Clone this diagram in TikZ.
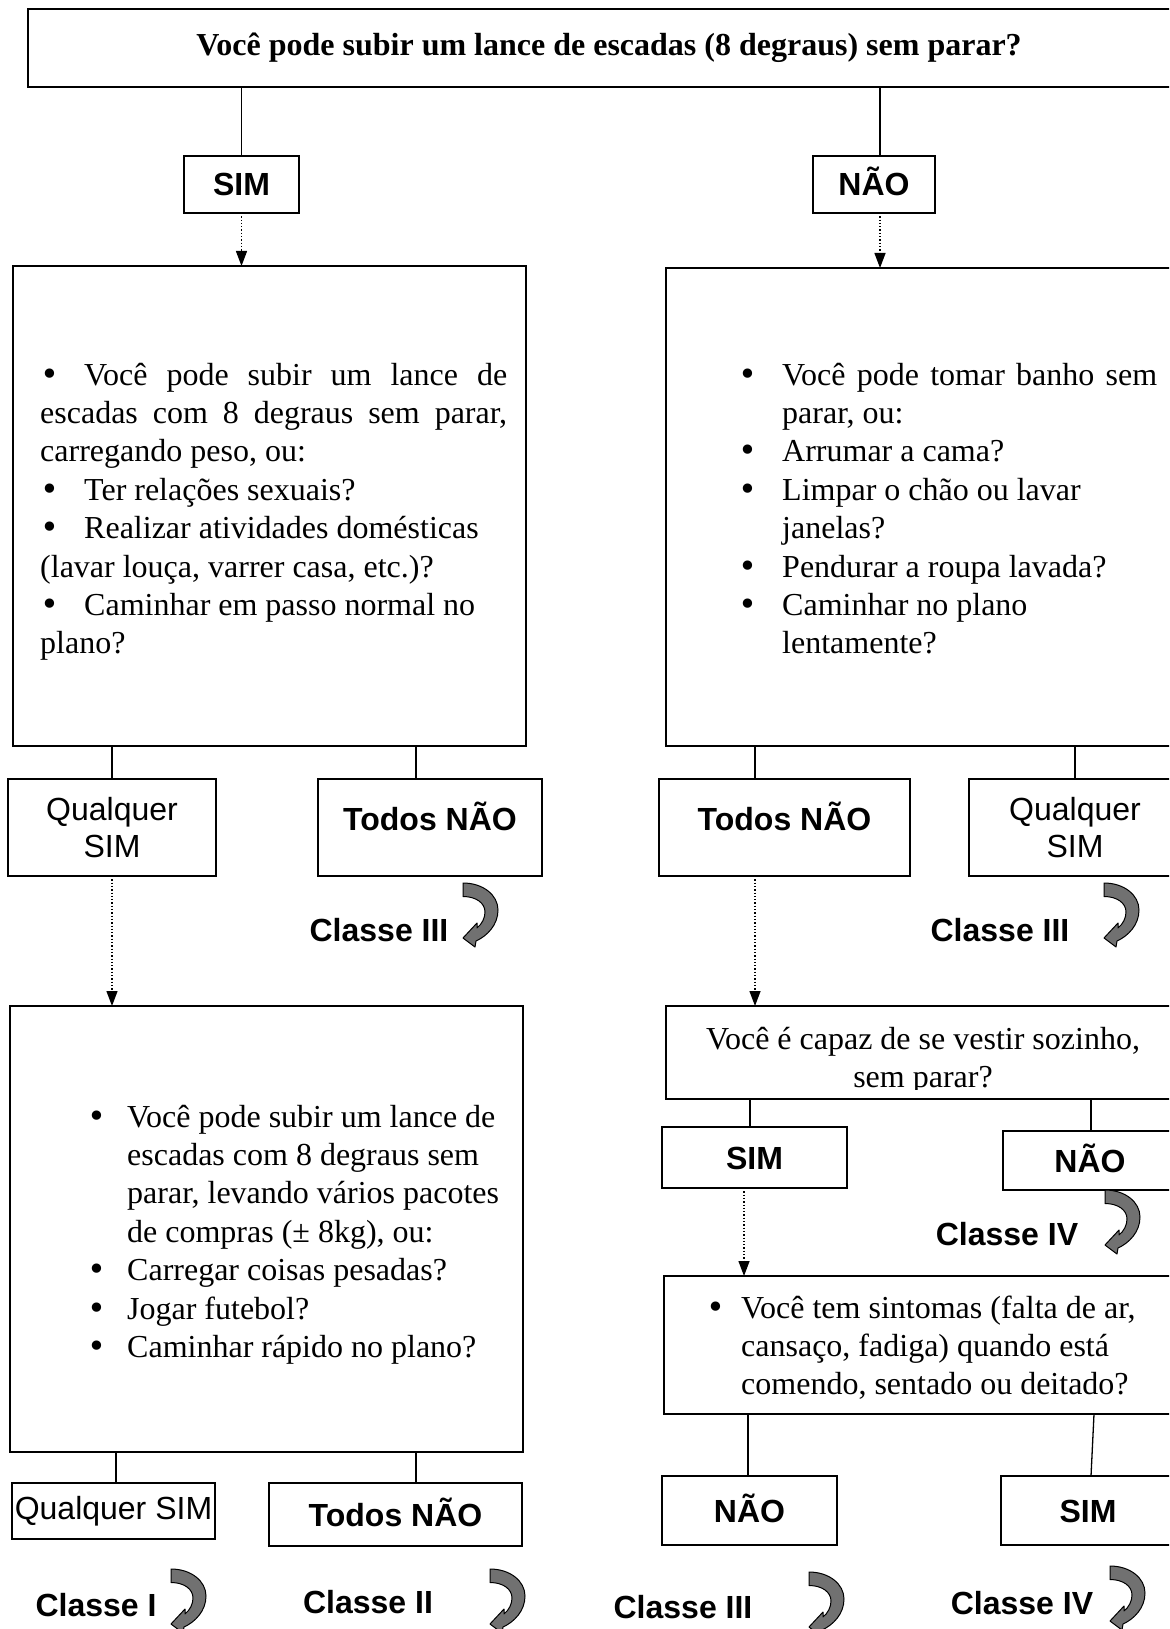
\documentclass[tikz,border=0pt]{standalone}
\usepackage{fontspec}
\setmainfont{Liberation Serif}
\setsansfont{Liberation Sans}
\newfontfamily\bulletfont{DejaVu Sans}
\usetikzlibrary{arrows.meta}
\definecolor{turngray}{HTML}{717171}

% one justified line / one plain line of a bulleted block
\newcommand\JustLine[1]{\makebox[\linewidth][s]{#1}\par}
\newcommand\PlainLine[1]{\mbox{#1}\par}
\newcommand\Bul[1]{\makebox[#1][l]{{\bulletfont •}}}
\newcommand\BodySize{\fontsize{32}{38.4}\selectfont}

\tikzset{
  box/.style={draw, line width=1.8pt, inner sep=0pt, outer sep=0pt},
  link/.style={line width=1.3pt},
  flow/.style={line width=1.3pt, dash pattern=on 1.3pt off 2pt,
    -{Triangle[length=15pt,width=11pt]}},
  lab/.style={font=\sffamily\bfseries\fontsize{32}{38}\selectfont,
    text height=23pt, text depth=0pt},
  labr/.style={font=\sffamily\fontsize{32}{37}\selectfont, align=center},
  body/.style={anchor=base west, inner sep=0pt},
  classearrow/.pic={
    \draw[fill=turngray, line width=1pt, line join=round]
      (0,0) .. controls (20,0) and (35,12) .. (35,27)
      .. controls (35,42) and (24,53) .. (13,58)
      -- (12,64) -- (0,55) -- (14,40) -- (14,45)
      .. controls (19,41) and (22,35) .. (22,29)
      .. controls (22,20) and (13,13.5) .. (0,13.5) -- cycle;
  }
}

\begin{document}
\begin{tikzpicture}[x=1pt, y=-1pt]
\useasboundingbox (0,0) rectangle (1169,1629);
\clip (0,0) rectangle (1169,1629);

% ---- first question ----
\node[box, minimum width=1162pt, minimum height=78pt,
      font=\bfseries\fontsize{32}{38}\selectfont] (top) at (609,48)
  {Você pode subir um lance de escadas (8 degraus) sem parar?};

\node[box, lab, minimum width=115pt, minimum height=57pt] (sim0) at (241.5,184.5) {SIM};
\node[box, lab, minimum width=122pt, minimum height=57pt] (nao0) at (874,184.5) {NÃO};

\draw[link] (sim0.north |- top.south) -- (sim0.north);
\draw[link] ([xshift=6pt]nao0.north |- top.south) -- ([xshift=6pt]nao0.north);

% ---- second level boxes ----
\node[box, minimum width=513pt, minimum height=480pt] (lb1) at (269.5,506) {};
\node[box, minimum width=524pt, minimum height=478pt] (rb1) at (928,507) {};

\draw[flow] (sim0.south) -- (sim0.south |- lb1.north);
\draw[flow] ([xshift=6pt]nao0.south) -- ([xshift=6pt]nao0.south |- rb1.north);

\node[body] (lb1txt) at (40,385) {\begin{minipage}[t]{467pt}\BodySize\parskip=0pt
\JustLine{\Bul{44pt}Você pode subir um lance de}
\JustLine{escadas com 8 degraus sem parar,}
\PlainLine{carregando peso, ou:}
\PlainLine{\Bul{44pt}Ter relações sexuais?}
\PlainLine{\Bul{44pt}Realizar atividades domésticas}
\PlainLine{(lavar louça, varrer casa, etc.)?}
\PlainLine{\Bul{44pt}Caminhar em passo normal no}
\PlainLine{plano?}
\end{minipage}};

\node[body] (rb1txt) at (738,385) {\begin{minipage}[t]{419pt}\BodySize\parskip=0pt
\JustLine{\Bul{44pt}Você pode tomar banho sem}
\PlainLine{\hspace*{44pt}parar, ou:}
\PlainLine{\Bul{44pt}Arrumar a cama?}
\PlainLine{\Bul{44pt}Limpar o chão ou lavar}
\PlainLine{\hspace*{44pt}janelas?}
\PlainLine{\Bul{44pt}Pendurar a roupa lavada?}
\PlainLine{\Bul{44pt}Caminhar no plano}
\PlainLine{\hspace*{44pt}lentamente?}
\end{minipage}};

% ---- answers to the second level ----
\node[box, labr, minimum width=208pt, minimum height=97pt] (qs1) at (112,827.5) {Qualquer\\SIM};
\node[box, lab, minimum width=224pt, minimum height=97pt] (tn1) at (430,827.5) {\raisebox{8.5pt}{Todos NÃO}};
\node[box, lab, minimum width=251pt, minimum height=97pt] (tn2) at (784.5,827.5) {\raisebox{8.5pt}{Todos NÃO}};
\node[box, labr, minimum width=212pt, minimum height=97pt] (qs2) at (1075,827.5) {Qualquer\\SIM};

\draw[link] (qs1.north |- lb1.south) -- (qs1.north);
\draw[link] ([xshift=-14pt]tn1.north |- lb1.south) -- ([xshift=-14pt]tn1.north);
\draw[link] ([xshift=-29.5pt]tn2.north |- rb1.south) -- ([xshift=-29.5pt]tn2.north);
\draw[link] (qs2.north |- rb1.south) -- (qs2.north);

\node[lab] (c3a) at (379,930) {Classe III};
\pic at (463,883) {classearrow};
\node[lab] (c3b) at (1000,930) {Classe III};
\pic at (1104,883) {classearrow};

% ---- third level, left ----
\node[box, minimum width=513pt, minimum height=446pt] (lb2) at (266.5,1229) {};
\draw[flow] (qs1.south) -- (qs1.south |- lb2.north);

\node[body] (lb2txt) at (87,1127) {\begin{minipage}[t]{440pt}\BodySize\parskip=0pt
\PlainLine{\Bul{40pt}Você pode subir um lance de}
\PlainLine{\hspace*{40pt}escadas com 8 degraus sem}
\PlainLine{\hspace*{40pt}parar, levando vários pacotes}
\PlainLine{\hspace*{40pt}de compras (± 8kg), ou:}
\PlainLine{\Bul{40pt}Carregar coisas pesadas?}
\PlainLine{\Bul{40pt}Jogar futebol?}
\PlainLine{\Bul{40pt}Caminhar rápido no plano?}
\end{minipage}};

\node[box, labr, minimum width=203pt, minimum height=56pt] (qs3) at (113.5,1511) {Qualquer SIM};
\node[box, lab, minimum width=253pt, minimum height=63pt] (tn3) at (395.5,1514.5) {Todos NÃO};
\draw[link] ([xshift=2.5pt]qs3.north |- lb2.south) -- ([xshift=2.5pt]qs3.north);
\draw[link] ([xshift=20.5pt]tn3.north |- lb2.south) -- ([xshift=20.5pt]tn3.north);

\node[lab] (c1) at (96,1605) {Classe I};
\pic at (171,1569) {classearrow};
\node[lab] (c2) at (368,1602) {Classe II};
\pic at (490,1569) {classearrow};

% ---- third level, right ----
\node[box, minimum width=514pt, minimum height=93pt] (capaz) at (923,1052.5) {};
\draw[flow] ([xshift=-29.5pt]tn2.south) -- ([xshift=-29.5pt]tn2.south |- capaz.north);
\begin{scope}
  \clip (666,1006) rectangle (1180,1089);
  \node[anchor=base, inner sep=0pt] (capaztxt) at (923,1049)
    {\begin{minipage}[t]{500pt}\centering\BodySize
      Você é capaz de se vestir sozinho,\\sem parar?\end{minipage}};
\end{scope}

\node[box, lab, minimum width=185pt, minimum height=61pt] (sim3) at (754.5,1157.5) {SIM};
\node[box, lab, minimum width=174pt, minimum height=59pt] (nao3) at (1090,1160.5) {NÃO};
\draw[link] ([xshift=-4.5pt]sim3.north |- capaz.south) -- ([xshift=-4.5pt]sim3.north);
\draw[link] ([xshift=1pt]nao3.north |- capaz.south) -- ([xshift=1pt]nao3.north);

\node[lab] (c4a) at (1007,1234) {Classe IV};
\pic at (1105,1190) {classearrow};

\node[box, minimum width=526pt, minimum height=138pt] (sint) at (927,1345) {};
\draw[flow] ([xshift=-10.5pt]sim3.south) -- ([xshift=-10.5pt]sim3.south |- sint.north);
\node[body] (sinttxt) at (706,1318) {\begin{minipage}[t]{460pt}\BodySize\parskip=0pt
\PlainLine{\Bul{35pt}Você tem sintomas (falta de ar,}
\PlainLine{\hspace*{35pt}cansaço, fadiga) quando está}
\PlainLine{\hspace*{35pt}comendo, sentado ou deitado?}
\end{minipage}};

\node[box, lab, minimum width=175pt, minimum height=69pt] (nao4) at (749.5,1510.5) {NÃO};
\node[box, lab, minimum width=174pt, minimum height=69pt] (sim4) at (1088,1510.5) {SIM};
\draw[link] ([xshift=-1.5pt]nao4.north |- sint.south) -- ([xshift=-1.5pt]nao4.north);
\draw[link] ([xshift=6pt]sim4.north |- sint.south) -- ([xshift=3pt]sim4.north);

\node[lab] (c3c) at (683,1607) {Classe III};
\pic at (809,1572) {classearrow};
\node[lab] (c4b) at (1022,1603) {Classe IV};
\pic at (1110,1566) {classearrow};
\end{tikzpicture}
\end{document}
